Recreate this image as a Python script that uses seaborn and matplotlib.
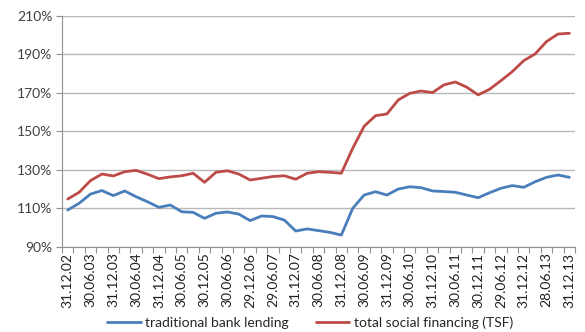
import matplotlib
matplotlib.use("Agg")
import matplotlib.pyplot as plt
import numpy as np
import pandas as pd
import seaborn as sns

# Half-year tick labels (quarterly data, every second quarter labelled)
tick_labels = [
    "31.12.02", "30.06.03", "31.12.03", "30.06.04", "31.12.04", "30.06.05",
    "30.12.05", "30.06.06", "29.12.06", "29.06.07", "31.12.07", "30.06.08",
    "31.12.08", "30.06.09", "31.12.09", "30.06.10", "31.12.10", "30.06.11",
    "30.12.11", "29.06.12", "31.12.12", "28.06.13", "31.12.13",
]

# Credit as % of GDP, quarterly Q4 2002 .. Q4 2013
bank_lending = [
    109.2, 112.7, 117.5, 119.3, 116.7, 119.1, 116.1, 113.5, 110.6, 111.8,
    108.3, 108.0, 104.9, 107.5, 108.2, 107.1, 103.7, 106.1, 105.8, 104.0,
    98.3, 99.4, 98.5, 97.6, 96.2, 110.1, 117.0, 118.7, 117.0, 120.1,
    121.3, 120.8, 119.1, 118.8, 118.4, 117.0, 115.6, 118.2, 120.5, 121.9,
    121.0, 123.9, 126.2, 127.4, 126.2,
]
tsf = [
    114.9, 118.4, 124.5, 127.9, 126.9, 129.1, 129.8, 127.8, 125.5, 126.4,
    127.0, 128.3, 123.6, 128.8, 129.6, 127.9, 124.8, 125.7, 126.6, 127.0,
    125.2, 128.3, 129.1, 128.8, 128.3, 141.3, 152.7, 158.2, 159.1, 166.4,
    169.8, 171.0, 170.2, 174.2, 175.7, 173.0, 169.0, 171.9, 176.4, 181.1,
    186.8, 190.3, 196.7, 200.6, 201.0,
]

series_names = ["traditional bank lending", "total social financing (TSF)"]
colors = ["#4A7EBB", "#BE4B48"]

n = len(bank_lending)
df = pd.DataFrame({
    "q": np.tile(np.arange(n), 2),
    "value": bank_lending + tsf,
    "series": [series_names[0]] * n + [series_names[1]] * n,
})

sns.set_theme(style="white")
plt.rcParams["font.family"] = ["Lato", "DejaVu Sans"]

fig = plt.figure(figsize=(5.85, 3.32), dpi=100)
ax = fig.add_axes([0.106, 0.256, 0.877, 0.696])

sns.lineplot(data=df, x="q", y="value", hue="series", palette=colors,
             linewidth=2.0, ax=ax, legend=True)

ax.set_xlim(-0.5, n - 0.5)
ax.set_ylim(90, 210)
ax.set_yticks(np.arange(90, 211, 20))
ax.set_yticklabels([f"{v}%" for v in range(90, 211, 20)], fontsize=10, color="#404040")
ax.yaxis.grid(True, color="#b8b8b8", linewidth=1.0)
ax.xaxis.grid(False)

ax.set_xticks(np.arange(0, n, 2))
ax.set_xticklabels(tick_labels, rotation=90, fontsize=10, color="#202020")
ax.set_xticks(np.arange(-0.5, n, 1), minor=True)
ax.tick_params(axis="x", which="major", length=0, pad=4)
ax.tick_params(axis="x", which="minor", length=4, color="#909090", width=0.8, direction="out")
ax.tick_params(axis="y", length=4, color="#909090", width=0.8, direction="out", pad=3)
ax.tick_params(axis="x", which="minor", bottom=True)
ax.tick_params(axis="y", left=True)

for side in ["top", "right"]:
    ax.spines[side].set_visible(False)
for side in ["left", "bottom"]:
    ax.spines[side].set_color("#909090")
    ax.spines[side].set_linewidth(0.8)

ax.set_xlabel("")
ax.set_ylabel("")

handles, labels = ax.get_legend_handles_labels()
ax.legend(handles, labels, loc="center", bbox_to_anchor=(0.53, 0.028),
          bbox_transform=fig.transFigure, ncol=2, frameon=False,
          fontsize=10, handlelength=2.4, columnspacing=2.0, handletextpad=0.3)

fig.savefig("out.png", dpi=100)
